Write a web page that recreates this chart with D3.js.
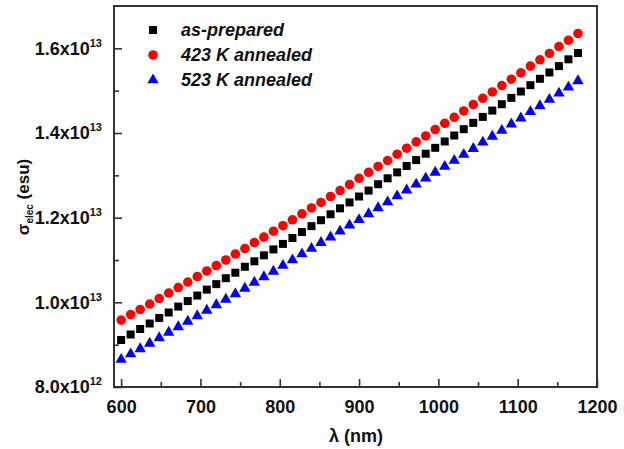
<!DOCTYPE html>
<html>
<head>
<meta charset="utf-8">
<script src="https://cdn.jsdelivr.net/npm/d3@7"></script>
<style>
  html, body { margin: 0; padding: 0; background: #fff; }
  svg { display: block; font-family: "Liberation Sans", Arial, sans-serif; }
  .tick text { font-size: 18px; font-weight: bold; fill: #111; }
</style>
</head>
<body>
<svg id="chart" width="624" height="449"></svg>
<script>
// wavelength (nm)
const wavelengths = [600, 612, 624, 636, 648, 660, 672, 684, 696, 708, 720, 732, 744, 756, 768, 780, 792,
  804, 816, 828, 840, 852, 864, 876, 888, 900, 912, 924, 936, 948, 960, 972, 984, 996, 1008, 1020, 1032,
  1044, 1056, 1068, 1080, 1092, 1104, 1116, 1128, 1140, 1152, 1164, 1176];

// sigma_elec in units of 1e13 esu
const asPrepared = [0.911, 0.924, 0.937, 0.950, 0.963, 0.976, 0.990, 1.003, 1.016, 1.030, 1.043, 1.057,
  1.070, 1.084, 1.097, 1.111, 1.125, 1.138, 1.152, 1.166, 1.180, 1.194, 1.208, 1.222, 1.236, 1.250, 1.264,
  1.279, 1.293, 1.307, 1.322, 1.336, 1.351, 1.365, 1.380, 1.394, 1.409, 1.424, 1.438, 1.453, 1.468, 1.483,
  1.498, 1.513, 1.528, 1.543, 1.558, 1.574, 1.589];

const annealed423 = [0.958, 0.971, 0.983, 0.996, 1.009, 1.022, 1.035, 1.048, 1.061, 1.074, 1.087, 1.100,
  1.114, 1.127, 1.141, 1.154, 1.168, 1.181, 1.195, 1.209, 1.223, 1.236, 1.250, 1.264, 1.278, 1.293, 1.307,
  1.321, 1.335, 1.350, 1.364, 1.379, 1.393, 1.408, 1.423, 1.437, 1.452, 1.467, 1.482, 1.497, 1.512, 1.527,
  1.542, 1.558, 1.573, 1.588, 1.604, 1.619, 1.635];

const annealed523 = [0.865, 0.878, 0.890, 0.903, 0.916, 0.929, 0.942, 0.955, 0.968, 0.981, 0.994, 1.007,
  1.020, 1.033, 1.047, 1.060, 1.073, 1.087, 1.100, 1.114, 1.127, 1.141, 1.154, 1.168, 1.182, 1.195, 1.209,
  1.223, 1.237, 1.251, 1.265, 1.279, 1.293, 1.307, 1.321, 1.335, 1.349, 1.363, 1.378, 1.392, 1.406, 1.421,
  1.435, 1.450, 1.464, 1.479, 1.494, 1.508, 1.523];

const seriesNames = ["as-prepared", "423 K annealed", "523 K annealed"];

const xTicks = [600, 700, 800, 900, 1000, 1100, 1200];
const xMinorTicks = [650, 750, 850, 950, 1050, 1150];
const yTicks = [0.8, 1.0, 1.2, 1.4, 1.6];
const yMinorTicks = [0.9, 1.1, 1.3, 1.5];
const yTickMantissa = ["8.0", "1.0", "1.2", "1.4", "1.6"];
const yTickExponent = ["12", "13", "13", "13", "13"];

const svg = d3.select("#chart");
const width = 624, height = 449;
const margin = { top: 6, right: 27, bottom: 62, left: 114 };
const innerW = width - margin.left - margin.right;
const innerH = height - margin.top - margin.bottom;

const x = d3.scaleLinear().domain([591, 1200]).range([0, innerW]);
const y = d3.scaleLinear().domain([0.8, 1.70]).range([innerH, 0]);

const g = svg.append("g").attr("transform", `translate(${margin.left},${margin.top})`);

// axes (ticks point inward)
const xAxis = g.append("g")
  .attr("transform", `translate(0,${innerH})`)
  .call(d3.axisBottom(x).tickValues(xTicks).tickSize(-8).tickSizeOuter(0).tickPadding(13)
    .tickFormat(d3.format("d")));
g.append("g")
  .attr("transform", `translate(0,${innerH})`)
  .call(d3.axisBottom(x).tickValues(xMinorTicks).tickSize(-5).tickSizeOuter(0).tickFormat(""));

const yAxis = g.append("g")
  .call(d3.axisLeft(y).tickValues(yTicks).tickSize(-8).tickSizeOuter(0).tickPadding(12).tickFormat(""));
g.append("g")
  .call(d3.axisLeft(y).tickValues(yMinorTicks).tickSize(-5).tickSizeOuter(0).tickFormat(""));

g.selectAll(".domain").remove();
g.selectAll(".tick line").attr("stroke", "#333").attr("stroke-width", 1.6);

yAxis.selectAll(".tick text").each(function (d, i) {
  const t = d3.select(this);
  t.text(null);
  t.append("tspan").text(yTickMantissa[i] + "x10");
  t.append("tspan").attr("dy", -8).attr("font-size", 11).text(yTickExponent[i]);
});

// frame
g.append("rect")
  .attr("width", innerW).attr("height", innerH)
  .attr("fill", "none").attr("stroke", "#333").attr("stroke-width", 2);

// series
const series = [
  { name: seriesNames[0], values: asPrepared, color: "#000000", symbol: d3.symbolSquare, size: 64 },
  { name: seriesNames[1], values: annealed423, color: "#ff0000", symbol: d3.symbolCircle, size: 72 },
  { name: seriesNames[2], values: annealed523, color: "#0000ff", symbol: d3.symbolTriangle, size: 56 }
];

series.forEach((s) => {
  const sym = d3.symbol().type(s.symbol).size(s.size);
  g.append("g")
    .selectAll("path")
    .data(wavelengths.map((w, i) => ({ w, v: s.values[i] })))
    .join("path")
    .attr("d", sym)
    .attr("fill", s.color)
    .attr("transform", (d) => `translate(${x(d.w)},${y(d.v)})`);
});

// legend
const legend = g.append("g").attr("transform", "translate(39,24)");
series.forEach((s, i) => {
  const row = legend.append("g").attr("transform", `translate(0,${i * 25})`);
  row.append("path")
    .attr("d", d3.symbol().type(s.symbol).size(s.size))
    .attr("fill", s.color);
  row.append("text")
    .attr("x", 28)
    .attr("dy", "0.35em")
    .attr("font-size", 18)
    .attr("font-weight", "bold")
    .attr("font-style", "italic")
    .attr("fill", "#111")
    .text(s.name);
});

// axis titles
svg.append("text")
  .attr("x", margin.left + x(900) - 3)
  .attr("y", 442)
  .attr("text-anchor", "middle")
  .attr("font-size", 18)
  .attr("font-weight", "bold")
  .attr("fill", "#111")
  .text("λ (nm)");

const yTitle = svg.append("text")
  .attr("transform", "translate(29,197) rotate(-90)")
  .attr("text-anchor", "middle")
  .attr("font-size", 17)
  .attr("font-weight", "bold")
  .attr("fill", "#111");
yTitle.append("tspan").text("σ");
yTitle.append("tspan").attr("dy", 4).attr("font-size", 10).text("elec");
yTitle.append("tspan").attr("dy", -4).text(" (esu)");
</script>
</body>
</html>
